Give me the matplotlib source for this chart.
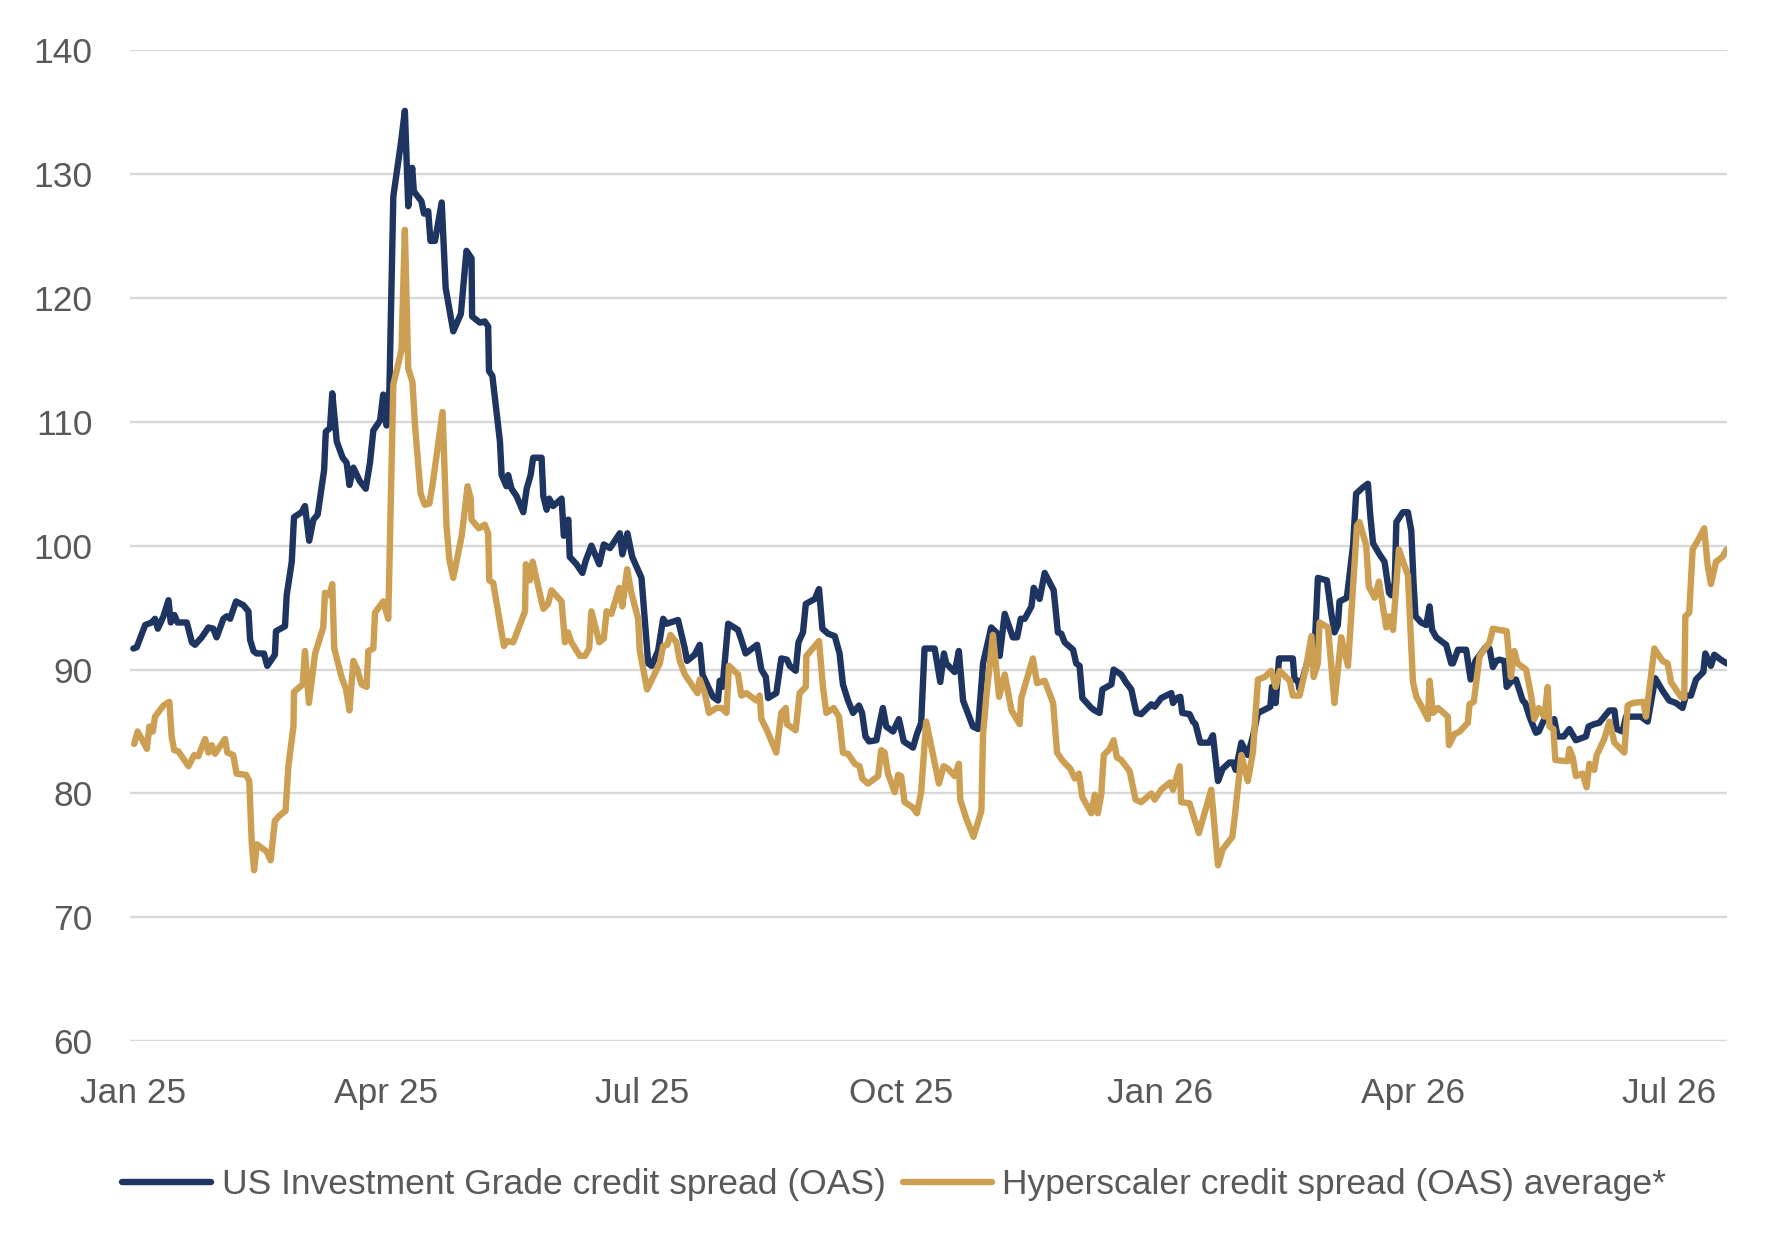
#!/usr/bin/env python3
"""
Credit spreads: US Investment Grade OAS vs hyperscaler OAS average
Values read off the reference chart (bp), days counted from 1 Jan 2025.
"""

import pandas as pd
import matplotlib.pyplot as plt
import matplotlib.dates as mdates

# (day offset from 2025-01-01, spread in bp)
ig_spread = [
    (0.2, 91.7), (1.4, 91.8), (4.4, 93.6), (6.7, 93.8), (7.9, 94.1), (8.9, 93.3), (10.9, 94.3),
    (12.7, 95.6), (13.5, 93.8), (14.8, 94.4), (15.9, 93.8), (19.2, 93.8), (21.0, 92.2), (22.1, 92.0),
    (24.5, 92.6), (26.9, 93.4), (28.6, 93.3), (29.8, 92.6), (32.2, 94.1), (33.4, 94.3), (34.6, 94.1),
    (36.7, 95.5), (39.3, 95.2), (41.1, 94.7), (41.7, 92.4), (42.9, 91.5), (44.0, 91.3), (46.6, 91.3),
    (47.8, 90.3), (50.5, 91.2), (50.9, 93.1), (54.1, 93.5), (54.7, 96.0), (56.5, 98.7), (57.3, 102.3),
    (60.0, 102.7), (61.2, 103.2), (62.7, 100.4), (64.2, 102.1), (65.7, 102.5), (68.0, 106.1),
    (68.6, 109.2), (70.1, 109.5), (70.9, 112.3), (72.5, 108.4), (74.6, 107.1), (76.0, 106.7),
    (77.0, 104.9), (78.4, 106.3), (80.7, 105.2), (82.8, 104.6), (84.3, 106.7), (85.5, 109.3),
    (87.9, 110.1), (89.0, 112.2), (90.2, 109.7), (91.2, 112.6), (92.6, 128.2), (95.3, 132.5),
    (96.7, 135.1), (97.9, 127.4), (99.3, 130.5), (99.9, 128.6), (102.6, 127.8), (103.5, 126.8),
    (105.0, 127.0), (105.8, 124.6), (107.4, 124.6), (109.8, 127.7), (111.2, 120.8), (113.9, 117.3),
    (116.6, 118.7), (118.6, 123.8), (120.4, 123.2), (120.6, 118.5), (123.4, 118.0), (125.1, 118.1),
    (126.3, 117.7), (126.6, 114.1), (127.8, 113.7), (130.5, 108.4), (131.1, 105.7), (132.8, 104.8),
    (133.4, 105.7), (134.6, 104.6), (136.4, 104.0), (138.8, 102.7), (140.0, 104.6), (141.4, 105.7),
    (142.3, 107.1), (145.3, 107.1), (145.9, 104.0), (147.1, 102.9), (148.0, 103.8), (149.4, 103.2),
    (152.4, 103.8), (153.2, 100.8), (154.8, 102.1), (155.3, 99.1), (157.7, 98.5), (159.8, 97.8),
    (161.0, 98.8), (163.0, 100.0), (165.8, 98.5), (167.4, 100.1), (169.6, 99.8), (173.1, 101.0),
    (174.0, 99.3), (175.8, 101.0), (177.5, 99.1), (180.8, 97.4), (183.2, 90.5), (184.4, 90.3),
    (186.7, 91.5), (188.5, 94.1), (189.7, 93.7), (193.8, 94.0), (196.2, 91.7), (197.0, 90.7),
    (199.7, 91.2), (201.5, 92.0), (202.5, 89.6), (204.5, 88.6), (206.2, 87.8), (208.0, 87.5),
    (208.6, 89.1), (209.6, 88.6), (211.6, 93.7), (215.1, 93.2), (216.3, 92.4), (217.8, 91.3),
    (221.9, 92.0), (223.4, 90.0), (225.0, 89.4), (225.8, 87.7), (228.7, 88.1), (230.5, 90.9),
    (232.5, 90.8), (233.5, 90.3), (235.6, 89.9), (236.6, 92.2), (238.2, 93.0), (239.2, 95.3),
    (242.4, 95.7), (243.9, 96.5), (245.1, 93.3), (247.1, 92.9), (249.5, 92.7), (251.2, 91.3),
    (252.4, 88.8), (254.2, 87.5), (256.0, 86.5), (258.1, 87.1), (259.2, 86.5), (260.4, 84.6),
    (261.7, 84.2), (264.3, 84.3), (265.4, 85.6), (266.6, 86.9), (267.8, 85.4), (270.2, 85.0),
    (272.3, 86.0), (274.0, 84.2), (277.3, 83.7), (278.7, 84.8), (280.2, 85.7), (281.4, 91.7),
    (285.0, 91.7), (287.0, 89.0), (288.3, 91.3), (289.1, 90.5), (292.1, 89.8), (293.6, 91.5),
    (295.1, 87.5), (298.6, 85.4), (300.4, 85.2), (302.2, 90.5), (305.1, 93.4), (306.9, 93.0),
    (308.1, 91.1), (309.9, 94.5), (312.8, 92.6), (314.3, 92.6), (315.6, 94.1), (317.0, 94.1),
    (319.4, 95.1), (320.2, 96.6), (322.3, 95.7), (324.1, 97.8), (327.3, 96.4), (328.8, 93.0),
    (330.0, 92.9), (331.2, 92.2), (334.2, 91.6), (335.3, 90.5), (336.5, 90.3), (337.5, 87.7),
    (340.7, 86.9), (341.9, 86.7), (343.6, 86.5), (344.6, 88.4), (347.8, 88.8), (348.6, 90.0),
    (351.3, 89.6), (352.9, 89.0), (354.9, 88.4), (356.7, 86.5), (358.4, 86.4), (362.0, 87.2),
    (363.2, 87.0), (365.5, 87.7), (369.1, 88.1), (369.7, 87.3), (371.1, 87.7), (372.3, 87.8),
    (373.0, 86.5), (375.6, 86.4), (376.8, 85.8), (377.7, 85.6), (379.4, 84.1), (382.5, 84.1),
    (383.9, 84.7), (385.7, 81.0), (387.4, 82.0), (389.8, 82.5), (391.0, 82.5), (392.0, 81.9),
    (394.0, 84.1), (396.3, 83.1), (398.1, 84.6), (399.9, 86.5), (401.7, 86.7), (404.3, 87.0),
    (404.9, 88.6), (406.2, 87.3), (407.4, 90.9), (412.3, 90.9), (412.9, 89.2), (414.1, 89.1),
    (414.7, 88.4), (417.1, 90.3), (418.9, 91.9), (420.0, 91.5), (421.2, 97.4), (424.4, 97.2),
    (426.0, 94.5), (427.1, 93.0), (428.3, 93.6), (428.9, 95.5), (431.5, 95.8), (433.7, 100.0),
    (434.8, 104.2), (437.2, 104.7), (439.0, 105.0), (439.8, 102.5), (440.8, 100.2), (443.1, 99.3),
    (444.9, 98.7), (446.5, 96.2), (447.3, 96.0), (448.5, 97.0), (449.1, 101.9), (451.4, 102.7),
    (453.2, 102.7), (454.4, 101.2), (455.2, 97.0), (455.9, 94.3), (457.9, 93.8), (459.7, 93.6),
    (460.9, 95.1), (461.8, 93.2), (463.3, 92.6), (465.0, 92.3), (466.8, 92.0), (468.6, 90.5),
    (469.2, 90.5), (471.0, 91.6), (473.9, 91.6), (475.5, 89.2), (477.2, 90.7), (480.8, 91.8),
    (482.2, 91.7), (483.4, 90.2), (484.6, 90.7), (485.7, 90.8), (487.5, 90.7), (488.3, 88.6),
    (489.8, 89.0), (491.6, 89.2), (494.0, 87.5), (494.9, 87.3), (496.4, 86.2), (498.7, 84.9),
    (499.7, 85.0), (501.7, 86.0), (504.1, 85.8), (505.2, 86.0), (506.4, 84.6), (508.6, 84.6),
    (510.6, 85.2), (512.9, 84.3), (516.5, 84.6), (517.4, 85.4), (519.4, 85.6), (521.2, 85.7),
    (524.8, 86.7), (526.6, 86.7), (527.4, 85.2), (529.5, 85.0), (530.7, 86.2), (536.0, 86.2),
    (538.4, 85.8), (541.1, 89.3), (543.7, 88.3), (546.1, 87.5), (548.5, 87.3), (550.8, 86.9),
    (552.0, 87.9), (553.8, 87.9), (555.6, 89.2), (558.2, 89.8), (558.9, 91.3), (560.9, 90.3),
    (562.1, 91.2), (564.4, 90.8), (566.5, 90.5),
]

hyper_spread = [
    (0.5, 84.0), (1.7, 85.0), (3.2, 84.4), (5.0, 83.6), (5.9, 85.4), (7.1, 85.0), (7.9, 86.2),
    (10.9, 87.1), (13.0, 87.4), (13.8, 84.6), (14.7, 83.5), (16.2, 83.4), (19.8, 82.2), (21.8, 83.1),
    (23.3, 83.0), (25.7, 84.4), (26.9, 83.3), (28.1, 83.9), (29.2, 83.2), (32.8, 84.4), (33.6, 83.3),
    (35.7, 83.1), (36.9, 81.6), (40.3, 81.5), (41.4, 81.0), (42.3, 75.9), (43.1, 73.8), (44.1, 75.9),
    (47.6, 75.3), (49.0, 74.6), (50.5, 77.8), (52.1, 78.2), (54.3, 78.6), (55.3, 82.2), (57.1, 85.4),
    (57.3, 88.2), (60.4, 88.8), (61.2, 91.5), (62.6, 87.3), (64.8, 91.3), (67.7, 93.4), (68.3, 96.2),
    (69.9, 96.0), (70.9, 96.9), (71.6, 91.7), (74.2, 89.4), (75.8, 88.4), (77.0, 86.7), (78.4, 90.7),
    (79.8, 90.0), (81.3, 88.8), (83.1, 88.6), (83.7, 91.5), (85.5, 91.7), (86.1, 94.6), (89.0, 95.5),
    (90.8, 94.1), (92.6, 113.0), (95.5, 115.8), (96.7, 125.5), (97.9, 114.3), (99.4, 113.2),
    (100.3, 109.7), (102.3, 104.2), (103.8, 103.3), (105.4, 103.4), (106.6, 105.0), (110.1, 110.8),
    (111.5, 101.6), (112.5, 98.9), (113.9, 97.4), (116.9, 100.8), (119.0, 104.8), (120.1, 103.8),
    (120.4, 102.1), (123.0, 101.4), (125.1, 101.7), (126.3, 101.0), (126.7, 97.2), (128.1, 97.0),
    (131.9, 91.9), (133.1, 92.3), (135.2, 92.2), (139.4, 94.7), (139.7, 98.5), (141.1, 97.2),
    (142.1, 98.7), (145.9, 94.9), (147.6, 95.3), (148.8, 96.4), (152.4, 95.5), (153.6, 92.2),
    (154.7, 93.0), (155.9, 92.2), (158.9, 91.1), (160.7, 91.1), (162.2, 91.7), (163.0, 94.7),
    (165.8, 92.2), (167.4, 92.5), (168.4, 94.7), (170.1, 94.5), (172.9, 96.6), (174.0, 95.1),
    (175.7, 98.1), (177.2, 96.2), (179.6, 94.1), (180.2, 91.5), (182.8, 88.4), (187.3, 90.5),
    (188.5, 91.9), (190.0, 92.0), (191.1, 92.8), (193.2, 92.2), (194.4, 90.7), (196.2, 89.6),
    (198.6, 88.8), (200.7, 88.1), (201.5, 89.2), (203.3, 88.1), (204.8, 86.5), (207.4, 86.9),
    (209.2, 86.9), (211.0, 86.5), (211.9, 90.3), (215.1, 89.6), (216.3, 87.9), (218.1, 88.1),
    (221.6, 87.5), (222.8, 87.9), (223.4, 86.0), (225.2, 85.2), (228.7, 83.3), (230.5, 86.5),
    (232.1, 86.9), (232.5, 85.6), (235.6, 85.1), (237.0, 88.1), (239.2, 88.6), (239.4, 91.1),
    (243.9, 92.3), (245.3, 88.6), (246.5, 86.5), (249.1, 86.9), (251.0, 86.2), (252.4, 83.3),
    (254.2, 83.2), (256.6, 82.4), (258.3, 82.2), (259.3, 81.2), (261.3, 80.8), (264.9, 81.4),
    (266.0, 83.5), (267.2, 83.3), (268.4, 81.6), (270.8, 80.1), (272.0, 81.5), (273.1, 81.4),
    (274.3, 79.3), (277.1, 78.9), (278.7, 78.4), (280.2, 80.1), (282.0, 85.8), (286.5, 80.8),
    (288.2, 82.2), (289.7, 82.0), (292.1, 81.4), (293.6, 82.4), (294.1, 79.5), (296.2, 78.0),
    (298.8, 76.5), (300.0, 77.4), (301.6, 78.6), (302.2, 84.8), (303.4, 87.9), (305.7, 92.8),
    (307.9, 87.8), (309.9, 89.6), (312.3, 86.7), (315.2, 85.6), (315.8, 87.7), (319.9, 90.9),
    (321.4, 88.9), (324.1, 89.1), (327.1, 87.3), (328.5, 83.3), (330.6, 82.6), (333.2, 82.0),
    (334.8, 81.2), (336.3, 81.6), (337.5, 79.7), (340.7, 78.4), (341.9, 79.9), (343.0, 78.4),
    (344.2, 79.9), (345.1, 83.1), (347.2, 83.6), (348.6, 84.3), (349.8, 82.9), (351.3, 82.7),
    (354.3, 81.8), (356.4, 79.5), (358.4, 79.3), (362.0, 80.0), (363.2, 79.5), (365.5, 80.3),
    (368.7, 80.9), (369.7, 80.3), (372.1, 82.2), (372.6, 79.3), (375.6, 79.2), (378.9, 76.8),
    (383.3, 80.3), (385.7, 74.2), (387.4, 75.5), (390.8, 76.5), (391.6, 78.0), (394.0, 83.1),
    (396.3, 81.0), (398.1, 83.3), (399.9, 89.2), (402.3, 89.4), (404.6, 89.9), (406.2, 88.6),
    (407.6, 89.9), (411.2, 89.1), (412.3, 87.9), (414.7, 87.9), (417.1, 90.3), (418.9, 92.7),
    (419.7, 89.4), (421.2, 90.5), (421.8, 93.8), (424.8, 93.4), (427.1, 87.3), (429.5, 92.6),
    (431.9, 90.3), (433.1, 94.5), (435.1, 101.6), (436.0, 101.9), (438.4, 100.0), (439.3, 96.7),
    (441.4, 95.8), (442.9, 97.1), (445.5, 93.4), (446.7, 94.3), (447.9, 93.2), (450.0, 99.7),
    (453.2, 97.6), (455.0, 89.0), (456.2, 87.8), (457.9, 87.1), (460.3, 86.0), (460.9, 89.1),
    (462.1, 86.5), (463.9, 86.9), (467.4, 86.2), (467.8, 83.9), (469.8, 84.8), (471.6, 85.0),
    (474.5, 85.7), (475.1, 87.2), (476.6, 87.4), (478.7, 91.1), (482.2, 92.2), (483.4, 93.3),
    (485.7, 93.2), (488.3, 93.1), (489.8, 89.4), (491.0, 91.5), (492.2, 90.5), (495.2, 90.0),
    (497.0, 87.9), (498.1, 86.0), (499.7, 86.9), (501.7, 86.2), (502.9, 88.6), (503.5, 85.4),
    (504.9, 85.2), (505.6, 82.7), (510.0, 82.6), (510.6, 83.6), (511.8, 82.9), (512.9, 81.4),
    (515.3, 81.6), (516.7, 80.5), (517.7, 82.4), (519.4, 81.9), (520.3, 83.1), (523.0, 84.4),
    (524.8, 85.8), (526.6, 84.1), (530.1, 83.3), (531.3, 87.1), (533.1, 87.3), (536.9, 87.4),
    (537.8, 86.2), (540.8, 91.7), (543.7, 90.7), (545.5, 90.5), (546.7, 89.0), (550.2, 87.8),
    (551.4, 87.7), (551.8, 94.3), (553.2, 94.6), (554.4, 99.7), (556.7, 100.6), (558.5, 101.4),
    (559.7, 98.5), (560.9, 96.9), (562.7, 98.7), (565.0, 99.1), (566.5, 99.7),
]

series_labels = ["US Investment Grade credit spread (OAS)",
                 "Hyperscaler credit spread (OAS) average*"]
series_colors = ["#1d3560", "#cc9f52"]
y_ticks = [60, 70, 80, 90, 100, 110, 120, 130, 140]
x_tick_dates = ["2025-01-01", "2025-04-01", "2025-07-01", "2025-10-01",
                "2026-01-01", "2026-04-01", "2026-07-01"]

START = pd.Timestamp("2025-01-01")


def to_frame(points):
    days, vals = zip(*points)
    dates = START + pd.to_timedelta(list(days), unit="D")
    return pd.Series(list(vals), index=dates)


def main():
    plt.rcParams["font.family"] = ["Liberation Sans", "DejaVu Sans"]
    text_grey = "#595959"
    fs = 25.5

    fig = plt.figure(figsize=(17.78, 12.53), dpi=100)
    ax = fig.add_axes([0.0731, 0.169, 0.8982, 0.791])

    for pts, lab, col in zip([ig_spread, hyper_spread], series_labels, series_colors):
        s = to_frame(pts)
        ax.plot(s.index, s.values, color=col, linewidth=4.6, label=lab,
                solid_joinstyle="round", solid_capstyle="round", zorder=3)

    ax.set_ylim(60, 140)
    ax.set_yticks(y_ticks)
    ax.set_xlim(START - pd.Timedelta(days=1), START + pd.Timedelta(days=566.6))
    ax.set_xticks(pd.to_datetime(x_tick_dates))
    ax.xaxis.set_major_formatter(mdates.DateFormatter("%b %y"))

    ax.grid(axis="y", color="#d9d9d9", linewidth=1.7, zorder=0)
    ax.grid(axis="x", visible=False)
    for sp in ax.spines.values():
        sp.set_visible(False)
    ax.tick_params(axis="both", length=0, labelsize=fs, labelcolor=text_grey)
    ax.tick_params(axis="y", pad=27)
    ax.tick_params(axis="x", pad=26)

    handles, labels = ax.get_legend_handles_labels()
    fig.legend(handles, labels, loc="center", bbox_to_anchor=(0.503, 0.0545),
               ncol=2, frameon=False, fontsize=fs, labelcolor=text_grey,
               handlelength=2.5, handletextpad=0.3, columnspacing=0.5)

    fig.savefig("out.png", dpi=100)


if __name__ == "__main__":
    main()
